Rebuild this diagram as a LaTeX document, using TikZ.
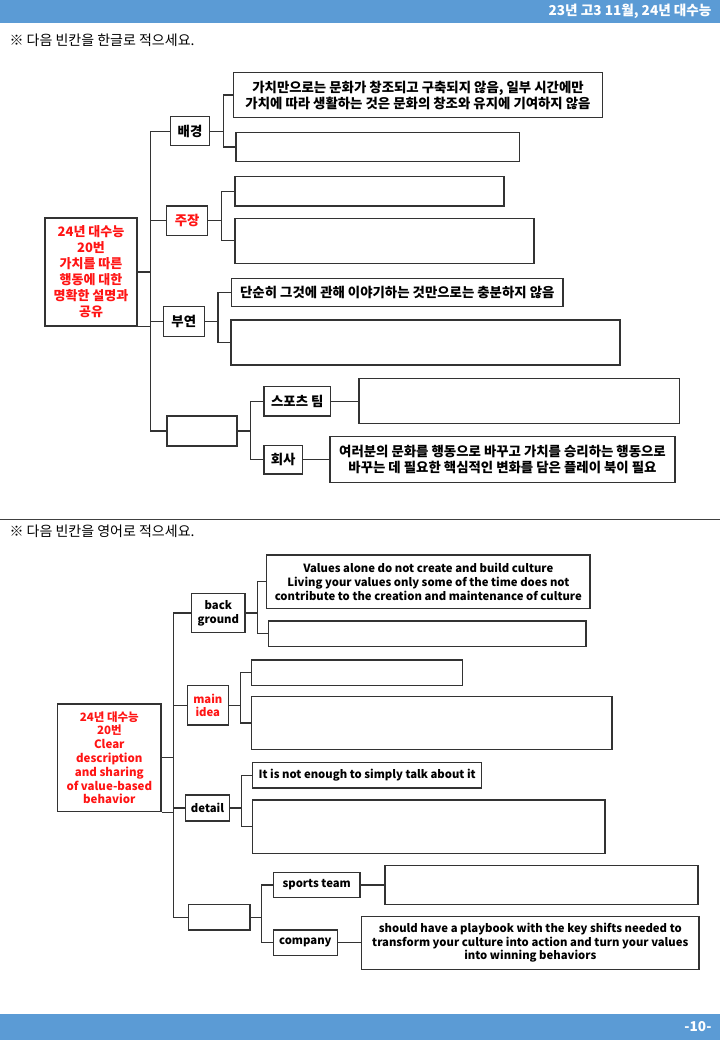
\documentclass[tikz,border=0pt]{standalone}
\usepackage{fontspec}
\setmainfont{Noto Sans CJK KR}
\definecolor{barblue}{HTML}{5B9BD5}
\definecolor{lc}{HTML}{333333}
\definecolor{rd}{RGB}{255,20,20}
\begin{document}
\begin{tikzpicture}[x=1pt,y=-1pt,
  sz/.style 2 args={minimum width=#1pt, minimum height=#2pt},
  bx/.style={draw=lc, line width=1.3pt, inner sep=0pt, align=center, font=\bfseries\fontsize{13.4}{16}\selectfont},
  ebx/.style={draw=lc, line width=1.3pt, inner sep=0pt, align=center, font=\bfseries\fontsize{11.3}{13.7}\selectfont},
  conn/.style={draw=lc, line width=1.3pt},
  hint/.style={anchor=west, font=\fontsize{14}{16}\selectfont}
]
\useasboundingbox (0,0) rectangle (720,1040);
% bars
\fill[barblue] (0,0) rectangle (720,23);
\node[anchor=east, text=white, font=\bfseries\fontsize{13.6}{15}\selectfont] (hdr) at (715,11.5) {23년 고3 11월, 24년 대수능};
\fill[barblue] (0,1014) rectangle (720,1040);
\node[anchor=east, text=white, font=\bfseries\fontsize{13.6}{15}\selectfont] (pg) at (715,1027) {-10-};
\node[hint] (h1) at (6,40) {※ 다음 빈칸을 한글로 적으세요.};
\draw[line width=0.8pt, black!75] (0,519) -- (720,519);
\node[hint] (h2) at (6,531) {※ 다음 빈칸을 영어로 적으세요.};

% ---------- Korean section ----------
\node[bx, text=rd, font=\bfseries\fontsize{13}{16}\selectfont, sz={92}{108}] (r1) at (91,272) {24년 대수능\\20번\\가치를 따른\\행동에 대한\\명확한 설명과\\공유};
\node[bx, sz={38.6}{29}] (k1) at (190,131.2) {배경};
\node[bx, text=rd, sz={41}{29.7}] (k2) at (187.2,220.8) {주장};
\node[bx, sz={41}{30}] (k3) at (183.8,321.7) {부연};
\node[bx, sz={70}{30}] (k4) at (202,431) {};
\node[bx, sz={369.4}{44.6}] (b1) at (418,95) {가치만으로는 문화가 창조되고 구축되지 않음, 일부 시간에만\\가치에 따라 생활하는 것은 문화의 창조와 유지에 기여하지 않음};
\node[bx, sz={283.3}{29.4}] (b2) at (377.7,147) {};
\node[bx, sz={269}{29.3}] (b3) at (369.5,191.3) {};
\node[bx, sz={299}{45}] (b4) at (384.5,240.8) {};
\node[bx, sz={331.3}{28.4}] (b5) at (397.3,292.5) {단순히 그것에 관해 이야기하는 것만으로는 충분하지 않음};
\node[bx, sz={389}{45}] (b6) at (425.5,342.5) {};
\node[bx, sz={66.7}{29.3}] (sp) at (297.3,401.3) {스포츠 팀};
\node[bx, sz={38.3}{28.7}] (co) at (283.2,459.7) {회사};
\node[bx, sz={320.3}{45}] (spa) at (519.2,401.3) {};
\node[bx, sz={345}{46}] (coa) at (502.5,459.7) {여러분의 문화를 행동으로 바꾸고 가치를 승리하는 행동으로\\바꾸는 데 필요한 핵심적인 변화를 담은 플레이 북이 필요};

\draw[conn] (r1.south east) -- ++(13,0);
\foreach \n in {k1,k2,k3,k4} \draw[conn] (r1.east) -- ++(13,0) |- (\n.west);
\foreach \n in {b1,b2} \draw[conn] (k1.east) -- ++(13.4,0) |- (\n.west);
\foreach \n in {b3,b4} \draw[conn] (k2.east) -- ++(13.3,0) |- (\n.west);
\foreach \n in {b5,b6} \draw[conn] (k3.east) -- ++(13,0) |- (\n.west);
\foreach \n in {sp,co} \draw[conn] (k4.east) -- ++(13,0) |- (\n.west);
\draw[conn] (sp.east) -- (spa.west);
\draw[conn] (co.east) -- (coa.west);

% ---------- English section ----------
\node[ebx, text=rd, font=\bfseries\fontsize{11.5}{13.8}\selectfont, sz={103.3}{107.7}] (r2) at (109.3,757.8) {24년 대수능\\20번\\Clear\\description\\and sharing\\of value-based\\behavior};
\node[ebx, sz={53.3}{39.4}] (e1) at (218.3,613) {back\\ground};
\node[ebx, text=rd, sz={41}{39.3}] (e2) at (207.8,705.3) {main\\idea};
\node[ebx, sz={43.6}{26}] (e3) at (207.5,808) {detail};
\node[ebx, sz={61.7}{25.7}] (e4) at (219.2,917.2) {};
\node[ebx, sz={323.3}{53.3}] (f1) at (428.3,581.7) {Values alone do not create and build culture\\Living your values only some of the time does not\\contribute to the creation and maintenance of culture};
\node[ebx, sz={317.7}{25.7}] (f2) at (427.2,633.8) {};
\node[ebx, sz={211}{25.7}] (f3) at (357.2,672.8) {};
\node[ebx, sz={360.3}{52.6}] (f4) at (431.8,723) {};
\node[ebx, sz={229}{25.3}] (f5) at (367.2,775.3) {It is not enough to simply talk about it};
\node[ebx, sz={352.3}{53.3}] (f6) at (428.8,826.7) {};
\node[ebx, sz={86.7}{25.4}] (sp2) at (316.7,885) {sports team};
\node[ebx, sz={64}{25.7}] (co2) at (305.3,942.8) {company};
\node[ebx, sz={313}{39.3}] (spa2) at (541.5,885) {};
\node[ebx, sz={337.3}{53}] (coa2) at (530.3,942.8) {should have a playbook with the key shifts needed to\\transform your culture into action and turn your values\\into winning behaviors};

\draw[conn] (r2.south east) -- ++(11.7,0);
\foreach \n in {e1,e2,e3,e4} \draw[conn] (r2.east) -- ++(11.7,0) |- (\n.west);
\foreach \n in {f1,f2} \draw[conn] (e1.east) -- ++(11.7,0) |- (\n.west);
\foreach \n in {f3,f4} \draw[conn] (e2.east) -- ++(11.7,0) |- (\n.west);
\foreach \n in {f5,f6} \draw[conn] (e3.east) -- ++(11.7,0) |- (\n.west);
\foreach \n in {sp2,co2} \draw[conn] (e4.east) -- ++(11,0) |- (\n.west);
\draw[conn] (sp2.east) -- (spa2.west);
\draw[conn] (co2.east) -- (coa2.west);
\end{tikzpicture}
\end{document}
